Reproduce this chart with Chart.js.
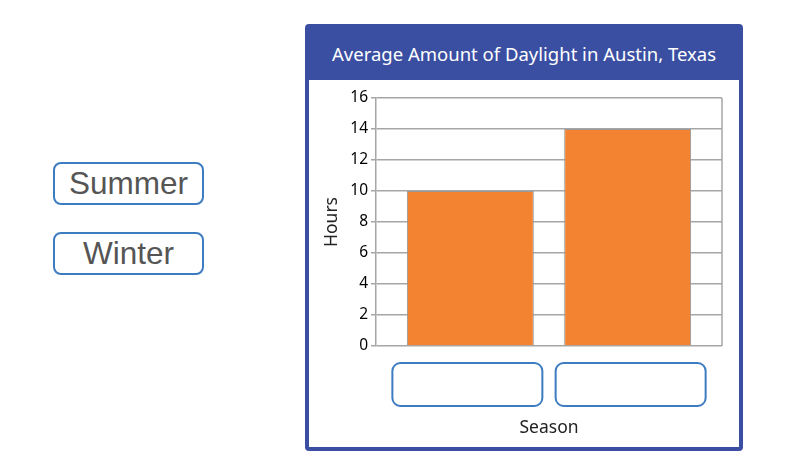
<!DOCTYPE html>
<html>
<head>
<meta charset="utf-8">
<script src="https://cdn.jsdelivr.net/npm/chart.js@4.4.0/dist/chart.umd.min.js"></script>
<style>
  body { margin: 0; width: 803px; height: 466px; background: #fff; position: relative; overflow: hidden; }
  .answer {
    position: absolute; left: 53px; width: 151px; height: 43px; box-sizing: border-box;
    border: 2px solid #3d7cc0; border-radius: 8px;
    font: 31.5px "Liberation Sans", Arial, sans-serif; color: #555;
    text-align: center; line-height: 39px;
  }
  #panel {
    position: absolute; left: 305px; top: 24px; width: 438px; height: 427px; box-sizing: border-box;
    border: 4px solid #3b4fa2; border-radius: 4px; background: #3b4fa2;
  }
  #title {
    position: absolute; left: 0; top: 0; width: 430px; height: 52px;
    text-align: center; color: #fff; font: 18.5px "Noto Sans", sans-serif; line-height: 52px;
  }
  #plot { position: absolute; left: 0; top: 52px; width: 430px; height: 367px; background: #fff; }
</style>
</head>
<body>
<div id="answers"></div>
<div id="panel">
  <div id="title"></div>
  <div id="plot"><canvas id="chart" width="430" height="367"></canvas></div>
</div>
<script>
// answer cards on the left (the x slots under the bars are left empty)
const answerLabels = ["Summer", "Winter"];
// bar heights, hours of daylight, left to right
const hours = [10, 14];
const yMax = 16;
const yStep = 2;
const chartTitle = "Average Amount of Daylight in Austin, Texas";
const xTitle = "Season";
const yTitle = "Hours";

document.getElementById("title").textContent = chartTitle;

const answersEl = document.getElementById("answers");
answerLabels.forEach((label, i) => {
  const div = document.createElement("div");
  div.className = "answer";
  div.style.top = (162 + i * 70) + "px";
  div.textContent = label;
  answersEl.appendChild(div);
});

const font = "'Noto Sans', sans-serif";
const gridColor = "#a6a6a6";

// empty drop boxes below each bar + right edge of the plot frame
const slotsPlugin = {
  id: "slots",
  beforeDatasetsDraw(chart) {
    const { ctx, chartArea } = chart;
    ctx.save();
    ctx.strokeStyle = gridColor;
    ctx.lineWidth = 1.5;
    ctx.beginPath();
    ctx.moveTo(chartArea.right, chartArea.top);
    ctx.lineTo(chartArea.right, chartArea.bottom);
    ctx.stroke();
    ctx.restore();
  },
  afterDraw(chart) {
    const { ctx, chartArea, scales } = chart;
    ctx.save();
    ctx.strokeStyle = "#3d7cc0";
    ctx.lineWidth = 2;
    hours.forEach((v, i) => {
      // boxes sit a little wider apart than the bars
      const cx = scales.x.getPixelForValue(i) + (i === 0 ? -3 : 3);
      ctx.beginPath();
      ctx.roundRect(cx - 75, chartArea.bottom + 17, 150, 43, 8);
      ctx.stroke();
    });
    ctx.restore();
  }
};

new Chart(document.getElementById("chart").getContext("2d"), {
  type: "bar",
  data: {
    datasets: [{
      data: hours.map((h, i) => ({ x: i, y: h })),
      backgroundColor: "#f48331",
      borderColor: "#9a9a9a",
      borderWidth: 1,
      categoryPercentage: 1,
      barPercentage: 0.807,
    }],
  },
  options: {
    responsive: false,
    animation: false,
    layout: { padding: { top: 18, right: 17, left: 0, bottom: 0 } },
    plugins: { legend: { display: false }, title: { display: false }, tooltip: { enabled: false } },
    scales: {
      x: {
        type: "linear",
        min: -0.6,
        max: 1.6,
        offset: false,
        ticks: { display: false },
        afterBuildTicks: (scale) => { scale.ticks = hours.map((h, i) => ({ value: i })); },
        grid: { display: false },
        border: { display: false },
        title: { display: true, text: xTitle, color: "#222", font: { family: font, size: 17.5 }, padding: { top: 0, bottom: 8 } },
        afterFit: (scale) => { scale.height = 101; },
      },
      y: {
        min: 0,
        max: yMax,
        ticks: { stepSize: yStep, color: "#000", font: { family: font, size: 15.5 }, padding: 3 },
        grid: { color: gridColor, lineWidth: 1.5, tickLength: 5 },
        border: { color: gridColor, width: 1.5 },
        title: { display: true, text: yTitle, color: "#222", font: { family: font, size: 17.5 }, padding: { top: 13, bottom: 0 } },
        afterFit: (scale) => { scale.width = 67; },
      },
    },
  },
  plugins: [slotsPlugin],
});
</script>
</body>
</html>
